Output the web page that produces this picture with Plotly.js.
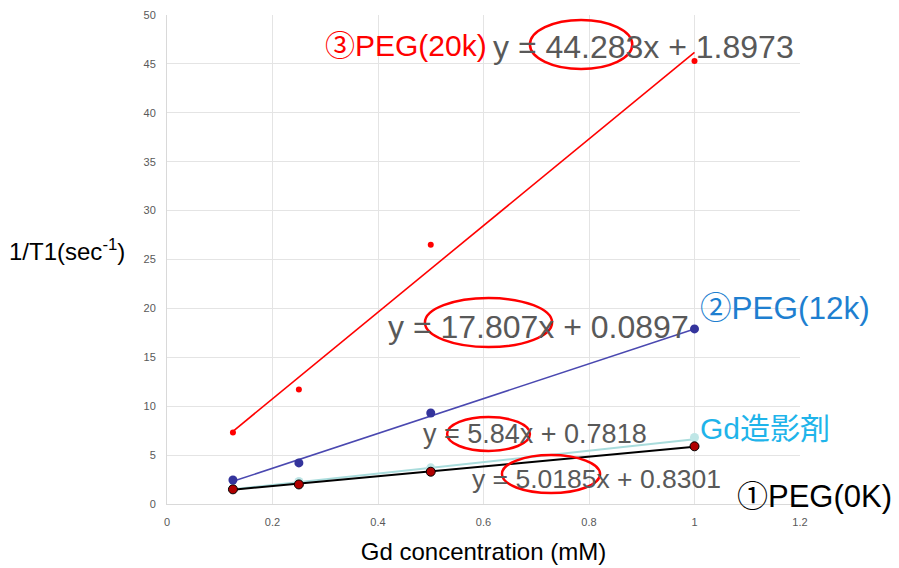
<!DOCTYPE html>
<html>
<head>
<meta charset="utf-8">
<script src="https://cdn.plot.ly/plotly-3.0.1.min.js"></script>
<style>html,body{margin:0;padding:0;background:#fff}#chart{width:899px;height:568px}</style>
</head>
<body>
<div id="chart"></div>
<script>
// Gd concentration (mM)
const conc = [0.125, 0.25, 0.5, 1];
const peg20k = [7.3, 11.7, 26.5, 45.3];
const peg12k = [2.45, 4.2, 9.3, 17.9];
const gdAgent = [1.6, 2.3, 3.7, 6.8];
const peg0k = [1.5, 2.0, 3.3, 5.9];
// trendline end values (x = 0.125 and x = 1)
const trendX = [0.125, 1];
const trend20k = [7.43, 46.18];
const trend12k = [2.32, 17.9];
const trendGd = [1.51, 6.62];
const trend0k = [1.46, 5.85];
const xTicks = [0, 0.2, 0.4, 0.6, 0.8, 1, 1.2];
const xTickText = ['0', '0.2', '0.4', '0.6', '0.8', '1', '1.2'];
const yTicks = [0, 5, 10, 15, 20, 25, 30, 35, 40, 45, 50];

const traces = [
  {x: trendX, y: trendGd, mode: 'lines', line: {color: '#a9dcdc', width: 2}, hoverinfo: 'skip'},
  {x: conc, y: gdAgent, mode: 'markers', marker: {color: '#bfe6e6', size: 9}},
  {x: trendX, y: trend0k, mode: 'lines', line: {color: '#000000', width: 2}, hoverinfo: 'skip'},
  {x: conc, y: peg0k, mode: 'markers', marker: {color: '#b00000', size: 9, line: {color: '#000', width: 1}}},
  {x: trendX, y: trend12k, mode: 'lines', line: {color: '#4a48b0', width: 1.5}, hoverinfo: 'skip'},
  {x: conc, y: peg12k, mode: 'markers', marker: {color: '#34349c', size: 9}},
  {x: trendX, y: trend20k, mode: 'lines', line: {color: '#ff0000', width: 1.6}, hoverinfo: 'skip'},
  {x: conc, y: peg20k, mode: 'markers', marker: {color: '#ff0000', size: 6}}
];

const F = 'Liberation Sans, Arial, Noto Sans CJK JP, sans-serif';
const gray = '#595959';
function ann(text, x, y, size, color) {
  return {text: text, x: x, y: y, xref: 'x', yref: 'y', xanchor: 'left', yanchor: 'middle',
          showarrow: false, font: {family: F, size: size, color: color}};
}
const annotations = [
  ann('③PEG(20k)', 0.296, 46.9, 30, '#ff0000'),
  ann('y = 44.283x + 1.8973', 0.615, 46.7, 32, gray),
  ann('y = 17.807x + 0.0897', 0.416, 18.1, 32, gray),
  ann('②PEG(12k)', 1.006, 20.0, 31.5, '#1e7fd0'),
  ann('y = 5.84x + 0.7818', 0.482, 7.16, 27, gray),
  ann('Gd造影剤', 1.006, 7.67, 30, '#1fb4ea'),
  ann('y = 5.0185x + 0.8301', 0.575, 2.56, 26.5, gray),
  ann('①PEG(0K)', 1.077, 0.72, 31, '#000000'),
  {text: '1/T1(sec<sup>-1</sup>)', xref: 'paper', yref: 'paper', x: -0.252, y: 0.52, xanchor: 'left', yanchor: 'middle',
   showarrow: false, font: {family: F, size: 24, color: '#000'}}
];

function ell(x0, x1, y0, y1) {
  return {type: 'circle', xref: 'x', yref: 'y', x0: x0, x1: x1, y0: y0, y1: y1,
          line: {color: '#ff0000', width: 2.5}, fillcolor: 'rgba(0,0,0,0)'};
}
const shapes = [
  ell(0.688, 0.882, 44.48, 49.49),
  ell(0.489, 0.730, 16.05, 21.06),
  ell(0.531, 0.688, 5.42, 8.90),
  ell(0.635, 0.821, 1.12, 5.01)
];

const layout = {
  width: 899, height: 568,
  margin: {l: 167, r: 99, t: 15, b: 64},
  paper_bgcolor: '#fff', plot_bgcolor: '#fff',
  showlegend: false,
  xaxis: {range: [0, 1.2], tickvals: xTicks, ticktext: xTickText, showgrid: true, gridcolor: '#e4e4e4',
          zeroline: false, showline: true, linecolor: '#d9d9d9', linewidth: 1, ticks: '',
          ticklabelstandoff: 8, tickfont: {family: F, size: 11, color: gray},
          title: {text: 'Gd concentration (mM)', font: {family: F, size: 24, color: '#000'}, standoff: 15}},
  yaxis: {range: [0, 50], tickvals: yTicks, showgrid: true, gridcolor: '#e4e4e4',
          zeroline: false, showline: true, linecolor: '#d9d9d9', linewidth: 1, ticks: '',
          ticklabelstandoff: 8, tickfont: {family: F, size: 11, color: gray}},
  annotations: annotations,
  shapes: shapes
};
Plotly.newPlot('chart', traces, layout, {displayModeBar: false, staticPlot: true});
</script>
</body>
</html>
